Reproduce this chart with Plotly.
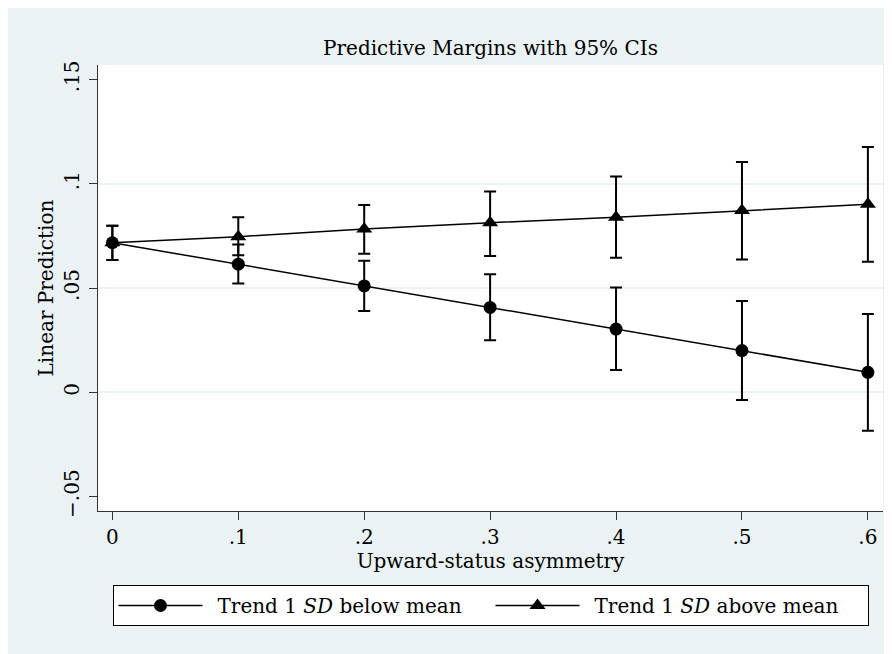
import plotly.graph_objects as go

x_vals = [0, 0.1, 0.2, 0.3, 0.4, 0.5, 0.6]
x_ticktext = ["0", ".1", ".2", ".3", ".4", ".5", ".6"]

below_mean = [0.0717, 0.0614, 0.0510, 0.0407, 0.0303, 0.0200, 0.0096]
below_lo = [0.0634, 0.0521, 0.0390, 0.0249, 0.0107, -0.0037, -0.0184]
below_hi = [0.0799, 0.0709, 0.0631, 0.0566, 0.0502, 0.0438, 0.0375]

above_mean = [0.0717, 0.0746, 0.0783, 0.0813, 0.0839, 0.0871, 0.0901]
above_lo = [0.0634, 0.0657, 0.0664, 0.0653, 0.0645, 0.0637, 0.0626]
above_hi = [0.0799, 0.0839, 0.0898, 0.0962, 0.1034, 0.1104, 0.1176]

y_tickvals = [-0.05, 0, 0.05, 0.1, 0.15]
y_ticktext = ["\u2212.05", "0", ".05", ".1", ".15"]
grid_vals = [0, 0.05, 0.1]

FONT = "DejaVu Serif"
FS = 20
BG = "#eaf2f3"

def err(mean, lo, hi):
    return dict(type="data", symmetric=False,
                array=[h - m for m, h in zip(mean, hi)],
                arrayminus=[m - l for m, l in zip(mean, lo)],
                color="black", thickness=2, width=6)

fig = go.Figure()
fig.add_trace(go.Scatter(
    x=x_vals, y=below_mean, mode="lines+markers",
    name="\u2002Trend 1 <i>SD</i> below mean",
    line=dict(color="black", width=1.5),
    marker=dict(symbol="circle", size=13, color="black"),
    error_y=err(below_mean, below_lo, below_hi)))
fig.add_trace(go.Scatter(
    x=x_vals, y=above_mean, mode="lines+markers",
    name="\u2002Trend 1 <i>SD</i> above mean",
    line=dict(color="black", width=1.5),
    marker=dict(symbol="triangle-up", size=14, color="black"),
    error_y=err(above_mean, above_lo, above_hi)))

# page body adds an 8px offset; figure is sized to fit the window
W, H = 884, 646
L, R, T, B = 90, 9, 57, 143
pw, ph = W - L - R, H - T - B

fig.update_layout(
    width=W, height=H,
    margin=dict(l=L, r=R, t=T, b=B, pad=0),
    paper_bgcolor=BG, plot_bgcolor="white",
    font=dict(family=FONT, size=FS, color="black"),
    title=dict(text="Predictive Margins with 95% CIs", x=0.5, xanchor="center",
               xref="paper", yref="container", y=1 - 40 / H, yanchor="middle",
               font=dict(family=FONT, size=FS, color="black")),
    xaxis=dict(range=[-0.0114, 0.612], tickvals=x_vals, ticktext=x_ticktext,
               ticks="outside", ticklen=8, tickwidth=1, tickcolor="#333",
               showline=True, linecolor="#333", linewidth=1, mirror=False,
               showgrid=False, zeroline=False,
               title=dict(text="Upward-status asymmetry", standoff=0,
                          font=dict(size=FS))),
    yaxis=dict(range=[-0.0569, 0.1569], tickvals=y_tickvals, ticktext=y_ticktext,
               tickangle=-90, ticks="outside", ticklen=8, tickwidth=1, tickcolor="#333",
               ticklabelstandoff=2,
               showline=True, linecolor="#333", linewidth=1,
               showgrid=False, zeroline=False,
               minor=dict(tickvals=grid_vals, showgrid=True, gridcolor=BG,
                          gridwidth=2, ticklen=0),
               title=dict(text="Linear Prediction", standoff=1, font=dict(size=FS))),
    showlegend=True,
    legend=dict(orientation="h", x=0.5, xanchor="center",
                y=(503 - 577) / ph, yanchor="top",
                bgcolor="white", bordercolor="black", borderwidth=1,
                itemwidth=84, entrywidth=278, entrywidthmode="pixels",
                font=dict(family=FONT, size=FS), itemclick=False),
)

fig.write_html("out.html")
